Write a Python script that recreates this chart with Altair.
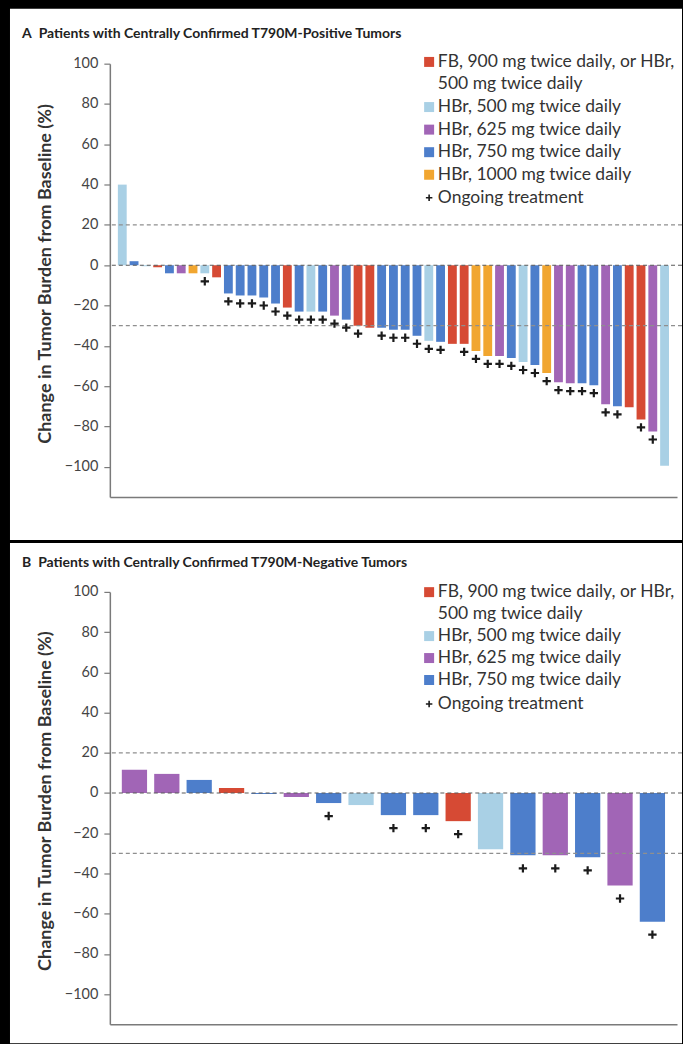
import altair as alt
import pandas as pd

FONT = "Lato"

# ---------------- legend labels / colours ----------------
LABELS = {
    "FB": "FB, 900 mg twice daily, or HBr,",
    "FB2": "500 mg twice daily",
    "H500": "HBr, 500 mg twice daily",
    "H625": "HBr, 625 mg twice daily",
    "H750": "HBr, 750 mg twice daily",
    "H1000": "HBr, 1000 mg twice daily",
}
COLORS = {
    "FB": "#d64a34",
    "FB2": "rgba(0,0,0,0)",
    "H500": "#a9d0e5",
    "H625": "#a165b6",
    "H750": "#4d7ecb",
    "H1000": "#f1a630",
}
ONGOING = "Ongoing treatment"
PLUS = "M-1,0H1M0,-1V1"

# ---------------- panel A data ----------------
a_values = [40, 2, -0.5, -1, -4, -4, -4, -4, -6, -14, -15, -15, -16, -19, -21,
            -23, -23, -23, -25, -27, -30, -31, -31, -32, -32, -35, -37.5, -38,
            -39, -39, -42.5, -45, -45, -46, -48, -49.5, -53.5, -58, -58.5, -58.5,
            -59.5, -69, -70, -70.5, -76.5, -82.5, -99.5]
a_groups = ["H500", "H750", "H500", "FB", "H750", "H625", "H1000", "H500", "FB",
            "H750", "H750", "H750", "H750", "H750", "FB", "H750", "H500", "H750",
            "H625", "H750", "FB", "FB", "H750", "H750", "H750", "H750", "H500",
            "H750", "FB", "FB", "H1000", "H1000", "H625", "H750", "H500", "H750",
            "H1000", "H625", "H625", "H750", "H750", "H625", "H750", "FB", "FB",
            "H625", "H500"]
a_ongoing = [0, 0, 0, 0, 0, 0, 0, 1, 0, 1, 1, 1, 1, 1, 1, 1, 1, 1, 1, 1, 1, 0,
             1, 1, 1, 1, 1, 1, 0, 1, 1, 1, 1, 1, 1, 1, 1, 1, 1, 1, 1, 1, 1, 0,
             1, 1, 0]
a_legend = ["FB", "FB2", "H500", "H625", "H750", "H1000"]

# ---------------- panel B data ----------------
b_values = [11.5, 9.5, 6.5, 2.5, -0.5, -2, -5, -6, -11, -11, -14, -28, -31, -31,
            -32, -46, -64]
b_groups = ["H625", "H625", "H750", "FB", "H750", "H625", "H750", "H500", "H750",
            "H750", "FB", "H500", "H750", "H625", "H750", "H625", "H750"]
b_ongoing = [0, 0, 0, 0, 0, 0, 1, 0, 1, 1, 1, 0, 1, 1, 1, 1, 1]
b_legend = ["FB", "FB2", "H500", "H625", "H750"]

ref_lines = [20, -30]
zero_line = [0]
y_ticks = [-100, -80, -60, -40, -20, 0, 20, 40, 60, 80, 100]
Y_TITLE = "Change in Tumor Burden from Baseline (%)"

VIEW_W = 673
LEG_FONT = 17.5


def panel(values, groups, ongoing, legend_codes, title, view_h, y_top, y_bot,
          pad_inner, pad_outer, plus_off, leg_y, leg2_y, title_off, row_pad,
          ytitle_y):
    n = len(values)
    df = pd.DataFrame({
        "idx": list(range(1, n + 1)),
        "value": values,
        "group": [LABELS[g] for g in groups],
        "ongoing": ongoing,
        "marker": [ONGOING] * n,
    })
    xs = alt.X("idx:O",
               scale=alt.Scale(domain=list(range(1, n + 1)), range=[100, 668],
                               paddingInner=pad_inner, paddingOuter=pad_outer),
               axis=alt.Axis(labels=False, ticks=False, title=None, grid=False,
                             domainColor="#7a7a7a", domainWidth=1.5,
                             offset=-(view_h - y_bot), zindex=1))

    def ys(field):
        return alt.Y(field,
                     scale=alt.Scale(domain=[-115, 100], range=[y_bot, y_top],
                                     nice=False, zero=False),
                     axis=alt.Axis(values=y_ticks, title=Y_TITLE, grid=False,
                                   offset=-100, domainColor="#7a7a7a",
                                   domainWidth=1.5, tickColor="#7a7a7a",
                                   tickSize=6, tickWidth=1.2,
                                   labelFont=FONT, labelFontSize=14.5,
                                   labelColor="#444", labelPadding=6,
                                   titleFont=FONT, titleFontSize=18,
                                   titleFontWeight="bold", titleColor="#333",
                                   titlePadding=10, titleY=ytitle_y, zindex=1))

    bars = alt.Chart(df).mark_bar().encode(
        x=xs,
        y=ys("value:Q"),
        color=alt.Color(
            "group:N",
            scale=alt.Scale(domain=[LABELS[c] for c in legend_codes],
                            range=[COLORS[c] for c in legend_codes]),
            legend=alt.Legend(orient="none", legendX=411, legendY=leg_y,
                              title=None, symbolType="square", symbolSize=100,
                              symbolStrokeWidth=0, labelFont=FONT,
                              labelFontSize=LEG_FONT, labelColor="#333",
                              labelOffset=0, rowPadding=row_pad, padding=0,
                              labelLimit=400)),
    )
    refs = alt.Chart(pd.DataFrame({"ref": ref_lines})).mark_rule(
        strokeDash=[4, 3], color="#8f8f8f", strokeWidth=1.2
    ).encode(y=ys("ref:Q"), x=alt.value(102), x2=alt.value(VIEW_W))
    zero = alt.Chart(pd.DataFrame({"ref": zero_line})).mark_rule(
        strokeDash=[4, 3], color="#5a5a5a", strokeWidth=1.2
    ).encode(y=ys("ref:Q"), x=alt.value(102), x2=alt.value(VIEW_W))
    pts = alt.Chart(df).transform_filter("datum.ongoing == 1").mark_point(
        filled=False, size=70, strokeWidth=2.2, color="#1b1b1b", opacity=1,
        yOffset=plus_off
    ).encode(
        x=xs,
        y=ys("value:Q"),
        shape=alt.Shape(
            "marker:N",
            scale=alt.Scale(domain=[ONGOING], range=[PLUS]),
            legend=alt.Legend(orient="none", legendX=411, legendY=leg2_y,
                              title=None, symbolSize=42, symbolStrokeWidth=1.6,
                              symbolStrokeColor="#1b1b1b",
                              symbolFillColor="rgba(0,0,0,0)",
                              labelFont=FONT, labelFontSize=LEG_FONT,
                              labelColor="#333", labelOffset=0, padding=0,
                              labelLimit=400)),
    )
    return alt.layer(bars, refs, zero, pts).properties(
        width=VIEW_W, height=view_h,
        title=alt.TitleParams(text=title, anchor="start", frame="group",
                              font=FONT, fontSize=14, fontWeight="bold",
                              color="#222", dx=12, offset=title_off,
                              baseline="middle"),
    )


chart_a = panel(a_values, a_groups, a_ongoing, a_legend,
                "A\u2002Patients with Centrally Confirmed T790M-Positive Tumors",
                532, 55, 489, 0.25, 0.68, 8, 44.5, 180.5, -39, 3.6, 265)
chart_b = panel(b_values, b_groups, b_ongoing, b_legend,
                "B\u2002Patients with Centrally Confirmed T790M-Negative Tumors",
                501, 49, 482, 0.22, 0.37, 13, 40.5, 152.5, -34, 3.0, 258)

chart = alt.vconcat(chart_a, chart_b, spacing=3, bounds="flush").resolve_scale(
    x="independent", y="independent", color="independent", shape="independent"
).resolve_legend(color="independent", shape="independent").properties(
    background="#000000",
    padding={"left": 10, "top": 8, "right": 0, "bottom": 0},
    autosize=alt.AutoSizeParams(type="pad"),
).configure_view(fill="white", stroke=None)

chart.save("out.html", embed_options={"renderer": "svg", "actions": False})
